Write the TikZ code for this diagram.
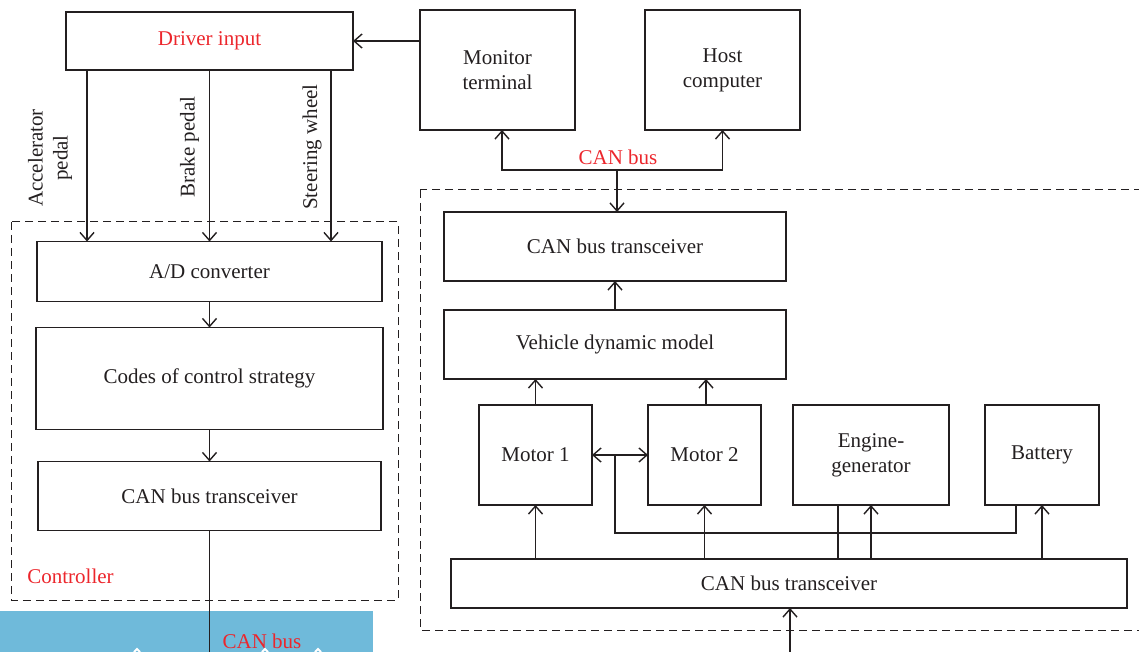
\documentclass[tikz,border=0pt]{standalone}
\usepackage{fontspec}
\setmainfont{Liberation Serif}
\usetikzlibrary{arrows.meta,positioning,calc}
\definecolor{inkgray}{RGB}{35,31,32}
\definecolor{labelred}{RGB}{236,38,44}
\definecolor{barblue}{RGB}{111,186,218}
\newcommand{\boxfont}{\fontsize{10.5}{12.5}\selectfont}

\begin{document}
\begin{tikzpicture}[
    x=0.5pt, y=-0.5pt,
    color=inkgray, line width=0.7pt,
    >={Straight Barb[length=4pt,width=7pt]},
    box/.style = {rectangle, draw, inner sep=0pt, outer sep=0pt, align=center, font=\boxfont},
    group/.style = {draw, line width=0.5pt, dash pattern=on 4pt off 2.5pt},
    tag/.style = {text=labelred, font=\boxfont},
    side/.style = {rotate=90, align=center, font=\boxfont}
]
\useasboundingbox (0,0) rectangle (1139,652);

% strip along the bottom
\fill[barblue] (0,611) rectangle (373,652);
\draw[white, line width=1pt] (134,652) -- (137,649) -- (140,652);
\draw[white, line width=1pt] (262,652) -- (265,649) -- (268,652);
\draw[white, line width=1pt] (315,652) -- (318,649) -- (321,652);

% top row
\node[box, minimum width=143.5pt, minimum height=29pt, text=labelred] (driver) at (209.5,41) {Driver input};
\node[box, minimum width=77.5pt, minimum height=60pt] (monitor) at (497.5,70) {Monitor\\terminal};
\node[box, minimum width=77.5pt, minimum height=60pt] (host) at (722.5,70) {Host\\computer};

% controller
\node[box, minimum width=172.5pt, minimum height=30pt] (ad) at (209.5,271.5) {A/D converter};
\node[box, minimum width=173.5pt, minimum height=51pt, below=13pt of ad] (codes) {Codes of control strategy};
\node[box, minimum width=171.5pt, minimum height=34.5pt, below=16pt of codes] (canleft) {CAN bus transceiver};
\draw[group] (11,222) rectangle (398,600);
\node[tag, anchor=west] (ctrl) at (20,576) {Controller};

% vehicle side
\node[box, minimum width=171pt, minimum height=34.5pt] (cantop) at (615,246.5) {CAN bus transceiver};
\node[box, minimum width=171pt, minimum height=34.5pt, below=14.5pt of cantop] (vdm) {Vehicle dynamic model};
\node[box, minimum width=56.5pt, minimum height=50pt] (motor1) at (535.5,455) {Motor 1};
\node[box, minimum width=56.5pt, minimum height=50pt, right=28pt of motor1] (motor2) {Motor 2};
\node[box, minimum width=78pt, minimum height=50pt, right=16pt of motor2] (engine) {Engine-\\generator};
\node[box, minimum width=57pt, minimum height=50pt, right=18pt of engine] (battery) {Battery};
\node[box, minimum width=338pt, minimum height=24.5pt] (canbot) at (789,583.5) {CAN bus transceiver};
\draw[group] (420,190) rectangle (1160,630);

% driver inputs
\draw[->] ([xshift=-61.25pt]driver.south) -- ([xshift=-61.25pt]driver.south |- ad.north);
\draw[->] (driver.south) -- (driver.south |- ad.north);
\draw[->] ([xshift=60.75pt]driver.south) -- ([xshift=60.75pt]driver.south |- ad.north);
\node[side] (accel) at (50,158) {Accelerator\\pedal};
\node[side] (brake) at (189.5,147) {Brake pedal};
\node[side] (steer) at (312,147) {Steering wheel};

\draw[->] (ad) -- (codes);
\draw[->] (codes) -- (canleft);
\coordinate (busout) at (209.5,652);
\draw (canleft.south) -- (busout);
\node[tag] (outtag) at (262,641) {CAN bus};

% monitoring bus
\draw[->] (monitor.west |- driver.east) -- (driver.east);
\coordinate (bus) at (617,170);
\draw[<->] ([xshift=2.25pt]monitor.south) |- (bus) -| (host.south);
\draw[->] (bus) -- (bus |- cantop.north);
\node[tag] (bustag) at (618,157) {CAN bus};

% inside the vehicle
\draw[->] (vdm) -- (cantop);
\draw[->] (motor1.north) -- (motor1.north |- vdm.south);
\draw[->] ([xshift=0.75pt]motor2.north) -- ([xshift=0.75pt]motor2.north |- vdm.south);
\draw[<->] (motor1) -- (motor2);
\coordinate (link) at ($(motor1.east)!0.41!(motor2.west)$);
\draw (link) -- ++(0,78) -| ([xshift=-13pt]battery.south);

\draw[->] (canbot.north -| motor1) -- (motor1.south);
\draw[->] (canbot.north -| motor2) -- (motor2.south);
\draw ([xshift=-16.5pt]engine.south) -- ([xshift=-16.5pt]engine.south |- canbot.north);
\draw[->] (canbot.north -| engine) -- (engine.south);
\draw[->] (canbot.north -| battery) -- (battery.south);

\coordinate (busin) at (790,652);
\draw[->] (busin) -- (busin |- canbot.south);
\end{tikzpicture}
\end{document}
